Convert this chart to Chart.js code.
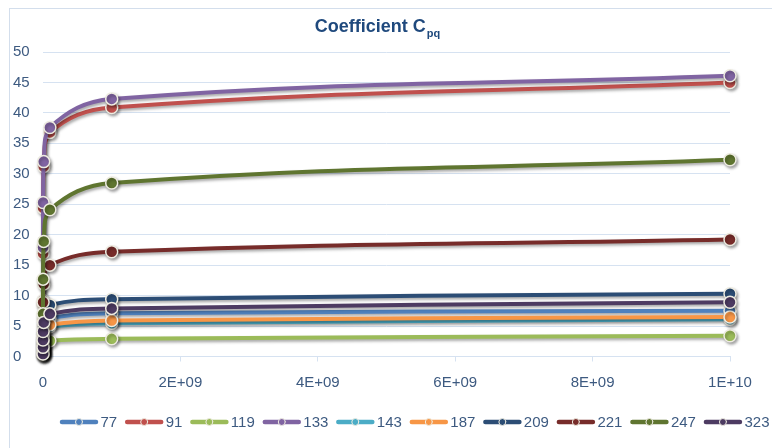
<!DOCTYPE html>
<html>
<head>
<meta charset="utf-8">
<script src="https://cdn.jsdelivr.net/npm/chart.js@4.4.0/dist/chart.umd.min.js"></script>
<style>
  html, body { margin: 0; padding: 0; background: #fff; }
  #wrap { width: 772px; height: 448px; }
</style>
</head>
<body>
<div id="wrap"><canvas id="c" width="772" height="448"></canvas></div>
<script>
// Coefficient Cpq — Excel-style scatter with smoothed lines

const xValues = [1e3, 1e4, 1e5, 1e6, 1e7, 1e8, 1e9, 1e10];
const seriesNames = ['77', '91', '119', '133', '143', '187', '209', '221', '247', '323'];
const s77  = [0.6, 1.7, 2.8, 4.0, 5.2, 6.3, 7.1, 7.5];
const s91  = [2.2, 8.6, 16.9, 24.4, 31.2, 36.8, 40.9, 45.0];
const s119 = [0.2, 0.7, 1.1, 1.6, 2.1, 2.6, 2.9, 3.4];
const s133 = [2.5, 9.2, 17.9, 25.3, 32.0, 37.6, 42.3, 46.1];
const s143 = [0.4, 1.2, 2.0, 2.9, 3.9, 4.9, 5.45, 6.1];
const s187 = [0.5, 1.4, 2.3, 3.3, 4.3, 5.2, 5.9, 6.5];
const s209 = [0.6, 1.9, 3.3, 4.9, 6.7, 8.45, 9.4, 10.3];
const s221 = [1.0, 3.3, 6.0, 8.9, 11.9, 15.0, 17.2, 19.2];
const s247 = [0.5, 2.5, 7.0, 12.7, 18.9, 24.1, 28.5, 32.3];
const s323 = [0.4, 1.5, 2.7, 4.1, 5.6, 7.0, 7.9, 8.9];
const seriesValues = [s77, s91, s119, s133, s143, s187, s209, s221, s247, s323];
const yTicks = { min: 0, max: 50, step: 5 };
const xTicks = { min: 0, max: 1e10, step: 2e9 };

const colors = ['#4F81BD', '#C0504D', '#9BBB59', '#8064A2', '#4BACC6',
                '#F79646', '#2C4D75', '#772C2A', '#5F7530', '#4D3B62'];
const FONT = '"Liberation Sans", Arial, sans-serif';
const TEXT = '#3D5A80';
const GRID = '#D6E2F1';
const MARKER_EDGE = '#EEECE1';

// Excel-ish number format: 2E+09, 1E+10
const sci = (v) => {
  if (v === 0) return '0';
  const e = Math.floor(Math.log10(v) + 1e-9);
  const m = Math.round(v / Math.pow(10, e));
  return m + 'E+' + String(e).padStart(2, '0');
};

// ---- plugins ----
const frame = {
  id: 'frame',
  beforeDraw(chart) {
    const c = chart.ctx;
    c.save();
    c.fillStyle = '#fff';
    c.fillRect(0, 0, chart.width, chart.height);
    c.strokeStyle = '#D3DEEC';
    c.lineWidth = 1;
    c.strokeRect(9.5, 8.5, 900, 600);
    c.restore();
  },
  afterDraw(chart) {
    const c = chart.ctx;
    // title with subscript
    c.save();
    c.fillStyle = '#1F497D';
    c.textBaseline = 'alphabetic';
    c.font = 'bold 18px ' + FONT;
    const main = 'Coefficient C';
    const wMain = c.measureText(main).width;
    c.font = 'bold 11px ' + FONT;
    const wSub = c.measureText('pq').width;
    const x0 = 377 - (wMain + wSub) / 2;
    c.font = 'bold 18px ' + FONT;
    c.fillText(main, x0, 32);
    c.font = 'bold 11px ' + FONT;
    c.fillText('pq', x0 + wMain + 1, 37);
    c.restore();

    // legend: line + marker samples
    c.save();
    c.font = '15px ' + FONT;
    c.textBaseline = 'middle';
    let x = 60;
    const y = 422;
    chart.data.datasets.forEach((ds) => {
      c.strokeStyle = ds.borderColor;
      c.lineWidth = 4.5;
      c.lineCap = 'round';
      c.beginPath();
      c.moveTo(x + 2, y);
      c.lineTo(x + 36, y);
      c.stroke();
      c.beginPath();
      c.arc(x + 19, y, 3.5, 0, Math.PI * 2);
      c.fillStyle = ds.borderColor;
      c.fill();
      c.lineWidth = 1;
      c.strokeStyle = MARKER_EDGE;
      c.stroke();
      c.fillStyle = TEXT;
      c.fillText(ds.label, x + 40.5, y + 1);
      x += 40.5 + c.measureText(ds.label).width + 8;
    });
    c.restore();
  },
};

const shadow = {
  id: 'shadow',
  beforeDatasetDraw(chart) {
    const c = chart.ctx;
    c.save();
    c.shadowColor = 'rgba(0,0,0,0.35)';
    c.shadowBlur = 3;
    c.shadowOffsetX = 1.5;
    c.shadowOffsetY = 2;
  },
  afterDatasetDraw(chart) {
    chart.ctx.restore();
  },
};

Chart.defaults.font.family = FONT;
Chart.defaults.font.size = 15;
Chart.defaults.color = TEXT;

new Chart(document.getElementById('c'), {
  type: 'line',
  data: {
    datasets: seriesNames.map((name, i) => ({
      label: name,
      data: xValues.map((x, j) => ({ x, y: seriesValues[i][j] })),
      order: seriesNames.length - i, // later series on top, like Excel
      borderColor: colors[i],
      backgroundColor: colors[i],
      borderWidth: 4,
      tension: 0.4,
      pointRadius: 6,
      pointBackgroundColor: colors[i],
      pointBorderColor: MARKER_EDGE,
      pointBorderWidth: 1.5,
      clip: false,
    })),
  },
  options: {
    responsive: false,
    animation: false,
    events: [],
    layout: { padding: { left: 13, right: 42, top: 52, bottom: 51.5 } },
    plugins: {
      legend: { display: false },
      title: { display: false },
      tooltip: { enabled: false },
    },
    scales: {
      x: {
        type: 'linear',
        min: xTicks.min,
        max: xTicks.max,
        ticks: { stepSize: xTicks.step, callback: (v) => sci(v), padding: 12, maxRotation: 0 },
        grid: { drawOnChartArea: false, drawTicks: true, tickLength: 5, color: GRID },
        border: { color: GRID },
        afterFit: (s) => { s.height = 40; },
      },
      y: {
        min: yTicks.min,
        max: yTicks.max,
        ticks: { stepSize: yTicks.step, crossAlign: 'far', padding: 6 },
        grid: { color: GRID, drawTicks: false },
        border: { display: false },
        afterFit: (s) => { s.width = 30; },
      },
    },
  },
  plugins: [frame, shadow],
});
</script>
</body>
</html>
